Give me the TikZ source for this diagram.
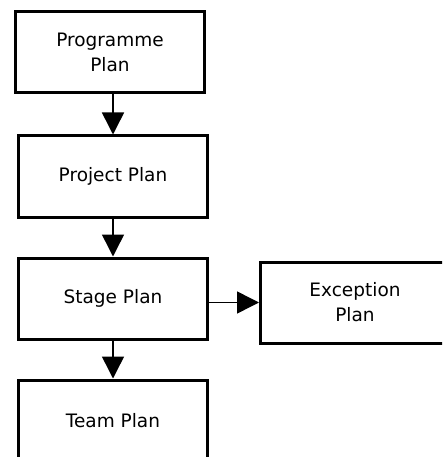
\documentclass[tikz,border=0pt]{standalone}
\usepackage{fontspec}
\setmainfont{DejaVu Sans}
\usetikzlibrary{positioning,arrows.meta}
\tikzset{>={Triangle[width=22pt,length=22pt]}}

\begin{document}
\begin{tikzpicture}[
    x=1pt, y=-1pt,
    every node/.style={
        draw=black,
        line width=3pt,
        minimum width=189pt,
        minimum height=81pt,
        align=center,
        font=\fontsize{18.5}{25}\selectfont
        },
    node distance=38pt
    ]
    \useasboundingbox (0,0) rectangle (442,457);
    \clip (0,0) rectangle (442,457);
    \node (programme) at (110,52.5) {Programme\\Plan};
    \node (project) [below = 40pt of programme.south, anchor=north, xshift=3pt] {Project Plan};
    \node (stage) [below = of project] {Stage Plan};
    \node (team) [below = of stage] {Team Plan};
    \node (exception) [right = 50pt of stage, yshift=-4pt] {Exception\\Plan};

    \path[->, line width=1.5pt]
    (project.north |- programme.south) edge (project)
    (project) edge (stage)
    (stage) edge (team)
    (stage.east |- exception.west) edge (exception)
    ;
\end{tikzpicture}
\end{document}
